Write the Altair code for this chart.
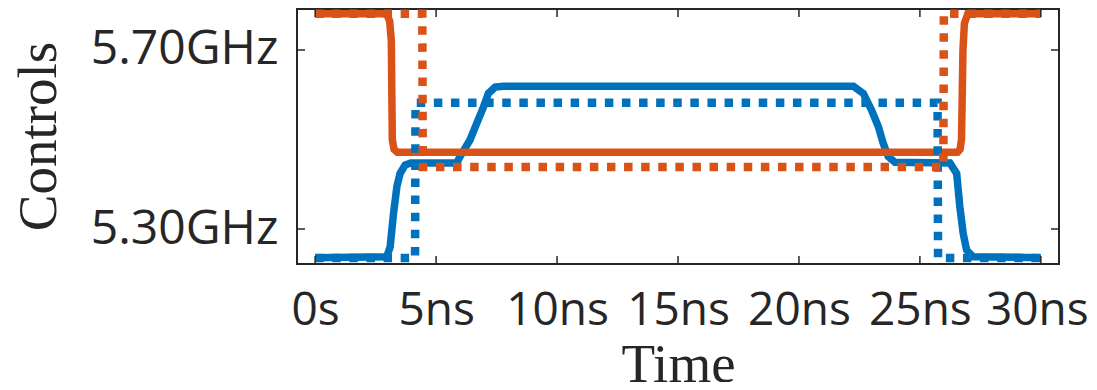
import altair as alt
import pandas as pd

# ---- data (time in ns, frequency in GHz) ----
blue_solid_t = [0, 2.96, 3.10, 3.24, 3.38, 3.51, 3.72, 3.95, 5.85, 5.99, 6.40, 6.68, 6.96, 7.16, 7.44, 7.78,
                22.25, 22.66, 23.00, 23.28, 23.48, 23.69, 23.97, 26.24, 26.52, 26.65, 26.79, 26.93, 27.20, 30]
blue_solid_v = [5.236, 5.238, 5.26, 5.335, 5.395, 5.424, 5.443, 5.4475, 5.4475, 5.462, 5.499, 5.536, 5.573, 5.603, 5.617, 5.619,
                5.619, 5.603, 5.566, 5.529, 5.492, 5.462, 5.449, 5.4475, 5.424, 5.350, 5.290, 5.253, 5.238, 5.236]

orange_solid_t = [0, 2.95, 3.08, 3.15, 3.17, 3.19, 3.26, 3.40, 26.55, 26.66, 26.72, 26.75, 26.78, 26.84, 26.98, 30]
orange_solid_v = [5.781, 5.781, 5.765, 5.72, 5.60, 5.50, 5.478, 5.4714, 5.4714, 5.478, 5.50, 5.60, 5.70, 5.76, 5.781, 5.781]

blue_dotted_t = [0, 4.13, 4.15, 25.73, 25.75, 30]
blue_dotted_v = [5.235, 5.235, 5.5822, 5.5822, 5.235, 5.235]

orange_dotted_t = [0, 4.43, 4.45, 25.97, 25.99, 30]
orange_dotted_v = [5.781, 5.781, 5.4385, 5.4385, 5.781, 5.781]

x_ticks = [0, 5, 10, 15, 20, 25, 30]
y_ticks = [5.3, 5.7]

BLUE = "#0072BD"
ORANGE = "#D95319"
INK = "#262626"

W, H = 762, 255
x_scale = alt.Scale(domain=[-0.75, 30.75], nice=False, zero=False)
y_scale = alt.Scale(domain=[5.2218, 5.7916], nice=False, zero=False)


def frame(t, v):
    return pd.DataFrame({"t": t, "v": v, "i": list(range(len(t)))})


x_axis = alt.Axis(values=x_ticks, labelExpr="datum.value == 0 ? '0s' : datum.value + 'ns'",
                  grid=False, ticks=False, domain=False, tickSize=0, labelPadding=24,
                  labelFont="Open Sans", labelFontSize=46, labelColor=INK, labelLimit=0,
                  labelOffset={"condition": {"test": "datum.value == 30", "value": -4}, "value": 0},
                  title="Time", titleFont="Liberation Serif", titleFontSize=55, titleFontWeight="normal",
                  titleColor=INK, titleBaseline="alphabetic", titleY=117, titleX=381, titleAnchor="middle",
                  titleLimit=0)
y_axis = alt.Axis(values=y_ticks, labelExpr="format(datum.value, '.2f') + 'GHz'",
                  grid=False, ticks=False, domain=False, tickSize=0, labelPadding=19,
                  labelFont="Open Sans", labelFontSize=48, labelColor=INK, labelLimit=0,
                  title="Controls", titleFont="Liberation Serif", titleFontSize=55, titleFontWeight="normal",
                  titleColor=INK, titleBaseline="alphabetic", titleAngle=270, titleX=-242, titleY=127,
                  titleAnchor="middle", titleLimit=0)

X = lambda f: alt.X(f, scale=x_scale, axis=x_axis)
Y = lambda f: alt.Y(f, scale=y_scale, axis=y_axis)


def line(t, v, color, dotted):
    kw = dict(color=color, strokeWidth=7.5, strokeCap="butt", strokeJoin="miter")
    if dotted:
        kw["strokeDash"] = [8.5, 8.6]
        kw["strokeWidth"] = 8.5
    return alt.Chart(frame(t, v)).mark_line(**kw).encode(
        x=X("t:Q"), y=Y("v:Q"), order="i:Q",
    )


xt = pd.DataFrame({"t": x_ticks})
yt = pd.DataFrame({"v": y_ticks})
tick_kw = dict(color=INK, strokeWidth=1.5)
ticks = [
    alt.Chart(xt).mark_rule(**tick_kw).encode(x=X("t:Q"), y=alt.value(H), y2=alt.value(H - 8)),
    alt.Chart(xt).mark_rule(**tick_kw).encode(x=X("t:Q"), y=alt.value(0), y2=alt.value(8)),
    alt.Chart(yt).mark_rule(**tick_kw).encode(y=Y("v:Q"), x=alt.value(0), x2=alt.value(8)),
    alt.Chart(yt).mark_rule(**tick_kw).encode(y=Y("v:Q"), x=alt.value(W), x2=alt.value(W - 8)),
]

chart = alt.layer(
    line(blue_solid_t, blue_solid_v, BLUE, False),
    line(orange_solid_t, orange_solid_v, ORANGE, False),
    line(blue_dotted_t, blue_dotted_v, BLUE, True),
    line(orange_dotted_t, orange_dotted_v, ORANGE, True),
    *ticks,
).properties(
    width=W, height=H,
    background="white",
    autosize=alt.AutoSizeParams(type="none"),
    padding={"left": 289, "top": 1, "right": 30, "bottom": 118},
).configure_view(
    stroke=INK, strokeWidth=2
)

chart.save("out.html", embed_options={"renderer": "svg", "actions": False})
